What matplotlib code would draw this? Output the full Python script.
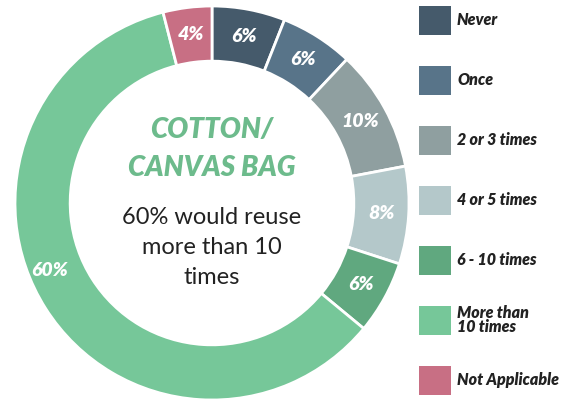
import matplotlib.pyplot as plt
from matplotlib.patches import Rectangle

# данные
labels = ['Never', 'Once', '2 or 3 times', '4 or 5 times', '6 - 10 times',
          'More than\n10 times', 'Not Applicable']
values = [6, 6, 10, 8, 6, 60, 4]
colors = ['#455a6b', '#587489', '#8f9fa0', '#b4c8ca', '#60a87f', '#76c799', '#c86f84']

W, H = 586, 401
fig = plt.figure(figsize=(W / 100, H / 100), dpi=100)
ax = fig.add_axes([0, 0, 1, 1])

cx, cy, R = 212, H - 203, 197
wedges, texts, autotexts = ax.pie(
    values, colors=colors, startangle=90, counterclock=False,
    center=(cx, cy), radius=R, frame=True,
    wedgeprops=dict(width=R * 0.28, edgecolor='white', linewidth=2),
    autopct=lambda p: '%d%%' % round(p), pctdistance=0.86,
    textprops=dict(color='white', fontsize=14, fontweight='heavy',
                   fontstyle='italic', family='Lato'))
ax.set_xlim(0, W)
ax.set_ylim(0, H)
ax.set_aspect('equal')
ax.axis('off')

# подпись 60% чуть дальше по кольцу, как в оригинале
autotexts[5].set_position((50, H - 270))

# центр
green = '#6dbb8c'
ax.text(cx, H - 130, 'COTTON/', ha='center', va='center', fontsize=20,
        fontweight='heavy', fontstyle='italic', color=green, family='Lato')
ax.text(cx, H - 168, 'CANVAS BAG', ha='center', va='center', fontsize=20,
        fontweight='heavy', fontstyle='italic', color=green, family='Lato')
for i, line in enumerate(['60% would reuse', 'more than 10', 'times']):
    ax.text(cx, H - 217 - i * 30.5, line, ha='center', va='center',
            fontsize=17, color='#222222', family='Lato')

# легенда
for i, (lab, col) in enumerate(zip(labels, colors)):
    yc = H - (20 + i * 60)
    ax.add_patch(Rectangle((419, yc - 14.5), 32, 29, facecolor=col, edgecolor='none'))
    ax.text(457, yc, lab, ha='left', va='center', fontsize=11.5,
            fontweight='heavy', fontstyle='italic', color='#222222',
            family='Lato', linespacing=0.9)

fig.savefig('out.png', dpi=100)
